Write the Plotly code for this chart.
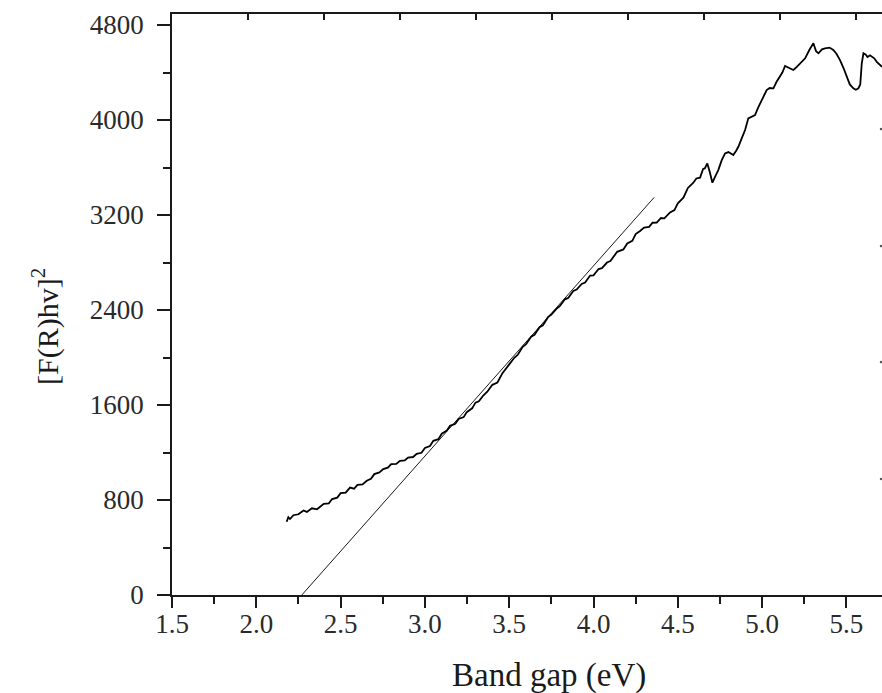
import plotly.graph_objects as go

# Measured spectrum (Kubelka-Munk transformed)
energy_ev = [2.18, 2.19, 2.20, 2.22, 2.25, 2.28, 2.30, 2.33, 2.36, 2.40, 2.43, 2.45, 2.48, 2.50,
             2.53, 2.556, 2.58, 2.60, 2.63, 2.655, 2.68, 2.70, 2.73, 2.753, 2.78, 2.80, 2.83,
             2.852, 2.88, 2.90, 2.93, 2.951, 2.98, 3.00, 3.03, 3.05, 3.08, 3.10, 3.13, 3.149,
             3.18, 3.20, 3.23, 3.248, 3.28, 3.30, 3.32, 3.346, 3.37, 3.40, 3.43, 3.46, 3.50,
             3.53, 3.55, 3.58, 3.60, 3.63, 3.65, 3.68, 3.70, 3.73, 3.75, 3.78, 3.80, 3.83,
             3.85, 3.88, 3.90, 3.93, 3.95, 3.98, 4.00, 4.03, 4.05, 4.08, 4.10, 4.14, 4.177,
             4.20, 4.23, 4.25, 4.276, 4.30, 4.33, 4.35, 4.375, 4.40, 4.42, 4.454, 4.48, 4.50,
             4.533, 4.56, 4.592, 4.61, 4.632, 4.65, 4.66, 4.675, 4.69, 4.705, 4.72, 4.74, 4.76,
             4.78, 4.80, 4.829, 4.845, 4.859, 4.88, 4.899, 4.918, 4.94, 4.958, 4.975, 4.988,
             5.01, 5.027, 5.045, 5.067, 5.085, 5.106, 5.12, 5.136, 5.16, 5.185, 5.20, 5.22,
             5.24, 5.255, 5.28, 5.304, 5.32, 5.334, 5.355, 5.373, 5.40, 5.422, 5.44, 5.462,
             5.482, 5.502, 5.52, 5.541, 5.556, 5.571, 5.582, 5.591, 5.601, 5.615, 5.625,
             5.640, 5.650, 5.665, 5.68, 5.695, 5.711]
fr_hv_sq = [617, 655, 640, 672, 680, 712, 700, 730, 722, 768, 772, 808, 820, 858,
            862, 905, 895, 928, 932, 962, 978, 1018, 1032, 1060, 1072, 1102, 1104,
            1130, 1134, 1158, 1162, 1188, 1198, 1238, 1255, 1298, 1312, 1358, 1385, 1425,
            1442, 1483, 1498, 1540, 1572, 1620, 1632, 1680, 1712, 1770, 1790, 1868, 1942,
            1998, 2022, 2090, 2112, 2175, 2192, 2255, 2272, 2340, 2362, 2410, 2432, 2490,
            2502, 2560, 2572, 2620, 2632, 2690, 2692, 2745, 2752, 2800, 2812, 2890, 2910,
            2960, 2982, 3040, 3066, 3095, 3100, 3135, 3136, 3175, 3172, 3222, 3242, 3298,
            3346, 3428, 3472, 3508, 3515, 3588, 3592, 3635, 3560, 3472, 3520, 3579, 3660,
            3719, 3730, 3705, 3740, 3775, 3850, 3916, 4014, 4030, 4042, 4100, 4141,
            4200, 4253, 4270, 4267, 4320, 4365, 4400, 4455, 4440, 4421, 4440, 4470,
            4500, 4520, 4590, 4646, 4580, 4562, 4595, 4604, 4610, 4590, 4560, 4505,
            4440, 4365, 4300, 4267, 4255, 4267, 4300, 4478, 4562, 4550, 4530,
            4545, 4534, 4520, 4490, 4470, 4449]

# Linear (Tauc) fit used to extrapolate the band gap
fit_x = [2.27, 4.36]
fit_y = [0, 3349]

# Stray marks at the right edge of the frame
edge_x = [5.705, 5.705, 5.705, 5.705]
edge_y = [3924, 2939, 1962, 977]

# Axis ticks
x_ticks = [1.5, 2.0, 2.5, 3.0, 3.5, 4.0, 4.5, 5.0, 5.5]
y_ticks = [0, 800, 1600, 2400, 3200, 4000, 4800]
top_ticks = [1, 2, 3, 4, 5, 6, 7, 8, 9]

FONT = "Liberation Serif"
W, H = 882, 693
L, R, T, B = 172, 0, 14, 98
PW, PH = W - L - R, H - T - B

fig = go.Figure()
fig.add_trace(go.Scatter(x=fit_x, y=fit_y, mode="lines",
                         line=dict(color="#1a1a1a", width=1), showlegend=False))
fig.add_trace(go.Scatter(x=energy_ev, y=fr_hv_sq, mode="lines",
                         line=dict(color="black", width=1.8), showlegend=False))
fig.add_trace(go.Scatter(x=edge_x, y=edge_y, mode="markers",
                         marker=dict(color="#555", size=2.5), showlegend=False))

fig.update_layout(
    width=W, height=H,
    margin=dict(l=L, r=R, t=T, b=B, pad=0),
    paper_bgcolor="white", plot_bgcolor="white",
    font=dict(family=FONT, color="#2a2a2a"),
    showlegend=False,
    xaxis=dict(range=[1.5, 5.711], tickvals=x_ticks, tickformat=".1f",
               ticks="outside", ticklen=11, tickwidth=1.5, tickcolor="#1a1a1a",
               ticklabelstandoff=-7,
               minor=dict(ticks="outside", ticklen=7, tickwidth=1.5, tickcolor="#1a1a1a",
                          dtick=0.25, tick0=1.5, showgrid=False),
               showline=True, linecolor="#1a1a1a", linewidth=1.8, mirror=False,
               showgrid=False, zeroline=False,
               tickfont=dict(family=FONT, size=27, color="#2a2a2a")),
    xaxis2=dict(overlaying="x", side="top", range=[0, PW / 76.0],
                tickvals=top_ticks, ticks="inside", ticklen=6, tickwidth=1.5,
                tickcolor="#1a1a1a", showticklabels=False,
                showline=True, linecolor="#1a1a1a", linewidth=1.8,
                showgrid=False, zeroline=False),
    yaxis=dict(range=[0, 4893], tickvals=y_ticks,
               ticks="outside", ticklen=13, tickwidth=1.5, tickcolor="#1a1a1a",
               ticklabelstandoff=8,
               minor=dict(ticks="outside", ticklen=7, tickwidth=1.5, tickcolor="#1a1a1a",
                          dtick=400, tick0=0, showgrid=False),
               showline=True, linecolor="#1a1a1a", linewidth=1.8, mirror=False,
               showgrid=False, zeroline=False,
               tickfont=dict(family=FONT, size=27, color="#2a2a2a")),
)

# dummy trace to activate the top axis
fig.add_trace(go.Scatter(x=[None], y=[None], xaxis="x2", showlegend=False))

fig.add_annotation(text="Band gap (eV)", xref="paper", yref="paper",
                   x=(549 - L) / PW, y=(H - B - 675) / PH,
                   xanchor="center", yanchor="middle", showarrow=False,
                   font=dict(family=FONT, size=33, color="#1a1a1a"))
fig.add_annotation(text="[F(R)hv]<sup>2</sup>", xref="paper", yref="paper",
                   x=(45 - L) / PW, y=(H - B - 326) / PH,
                   xanchor="center", yanchor="middle", textangle=-90, showarrow=False,
                   font=dict(family=FONT, size=30, color="#1a1a1a"))

# remove the default page margin so the figure fills the window exactly
fig.write_html("out.html",
               config={"displayModeBar": False},
               post_script="document.body.style.margin='0';document.body.style.overflow='hidden';")
